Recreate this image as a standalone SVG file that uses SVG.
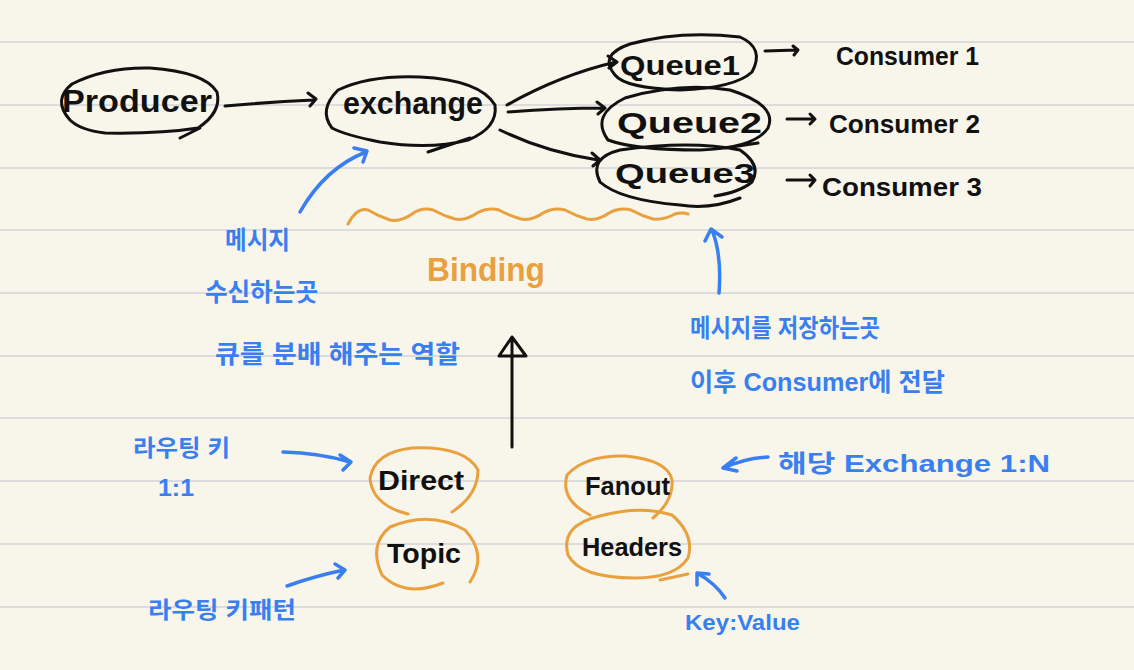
<svg xmlns="http://www.w3.org/2000/svg" width="1134" height="670" viewBox="0 0 1134 670">
<defs>
<style>
.bg{fill:#f8f6eb}
.rule{stroke:#dcdcdc;stroke-width:2}
.bk{fill:none;stroke:#111;stroke-width:3;stroke-linecap:round;stroke-linejoin:round}
.or{fill:none;stroke:#e9a03e;stroke-width:3;stroke-linecap:round}
.bl{fill:none;stroke:#3a7ff0;stroke-width:3.5;stroke-linecap:round;stroke-linejoin:round}
.tk{font-family:"Liberation Sans","Noto Sans",sans-serif;fill:#111;font-weight:bold}
.to{font-family:"Liberation Sans","Noto Sans",sans-serif;fill:#e9a03e;font-weight:bold}
.tb{font-family:"Liberation Sans","Noto Sans CJK KR",sans-serif;fill:#3a7ff0;font-weight:bold}
</style>
</defs>
<rect class="bg" x="0" y="0" width="1134" height="670"/>
<g id="rules">
<line class="rule" x1="0" y1="42" x2="1134" y2="42"/>
<line class="rule" x1="0" y1="105" x2="1134" y2="105"/>
<line class="rule" x1="0" y1="168" x2="1134" y2="168"/>
<line class="rule" x1="0" y1="230" x2="1134" y2="230"/>
<line class="rule" x1="0" y1="293" x2="1134" y2="293"/>
<line class="rule" x1="0" y1="356" x2="1134" y2="356"/>
<line class="rule" x1="0" y1="418" x2="1134" y2="418"/>
<line class="rule" x1="0" y1="481" x2="1134" y2="481"/>
<line class="rule" x1="0" y1="544" x2="1134" y2="544"/>
<line class="rule" x1="0" y1="607" x2="1134" y2="607"/>
</g>
<g id="connectors">
<path class="bk" d="M225 106 Q270 102 314 100 M308 93 L316 99 L310 106"/>
<path class="bk" d="M507 105 Q560 75 616 62 M608 56 L617 62 L609 68"/>
<path class="bk" d="M508 112 Q560 108 604 108 M597 102 L605 108 L598 114"/>
<path class="bk" d="M500 130 Q545 152 598 160 M592 153 L600 160 L593 166"/>
<path class="bk" d="M765 51 L797 50 M793 46 L798 50 L794 55"/>
<path class="bk" d="M787 119 L815 119 M810 114 L815 119 L810 124"/>
<path class="bk" d="M787 180 L815 180 M810 175 L815 180 L810 186"/>
<path class="bk" d="M512 447 L512 337 M499 356 L512 337 L526 356 Z"/>
<path class="bl" d="M300 212 Q325 168 366 152 M354 148 L367 151 L363 162"/>
<path class="bl" d="M719 293 Q722 255 712 230 M705 241 L711 229 L722 237"/>
<path class="bl" d="M283 452 Q320 453 350 462 M340 455 L351 462 L343 470"/>
<path class="bl" d="M287 586 Q315 576 344 570 M335 564 L345 570 L338 578"/>
<path class="bl" d="M768 457 Q745 458 724 468 M736 458 L723 468 L737 471"/>
<path class="bl" d="M725 598 Q715 583 697 573 M697 585 L697 573 L709 574"/>
<path class="or" d="M348 224 Q357 207 368 210 Q378 216 390 220 Q401 222 412 214 Q422 207 433 210 Q444 216 455 219 Q466 221 477 213 Q488 207 499 210 Q510 216 521 219 Q532 221 543 213 Q554 207 565 210 Q576 216 587 219 Q598 221 609 213 Q620 207 631 210 Q642 216 653 219 Q664 220 675 214 Q682 212 688 214"/>
</g>
<g id="producer">
<path class="bk" d="M70 120 Q52 100 72 84 Q105 67 150 68 Q205 72 217 92 Q222 112 198 128 Q160 134 105 133 Q80 130 70 120 M180 138 L200 128"/>
<text class="tk" x="62" y="112" font-size="32" textLength="150" lengthAdjust="spacingAndGlyphs">Producer</text>
</g>
<g id="exchange">
<path class="bk" d="M332 128 Q318 110 338 90 Q370 75 420 77 Q480 80 495 105 Q498 128 468 140 Q430 150 380 142 Q345 135 332 128 M428 152 L470 138"/>
<text class="tk" x="343" y="114" font-size="32" textLength="140" lengthAdjust="spacingAndGlyphs">exchange</text>
</g>
<g id="queue1">
<path class="bk" d="M615 75 Q598 55 630 44 Q680 30 740 37 Q765 48 752 72 Q735 88 680 90 Q625 88 615 75"/>
<text class="tk" x="620" y="75" font-size="27" textLength="120" lengthAdjust="spacingAndGlyphs">Queue1</text>
</g>
<g id="queue2">
<path class="bk" d="M608 140 Q590 115 625 98 Q680 82 730 90 Q778 105 768 128 Q755 148 700 150 Q635 150 608 140 M725 148 L758 143"/>
<text class="tk" x="617" y="133" font-size="30" textLength="145" lengthAdjust="spacingAndGlyphs">Queue2</text>
</g>
<g id="queue3">
<path class="bk" d="M600 182 Q588 158 620 150 Q690 140 740 150 Q762 165 752 182 Q740 192 715 196 M740 198 Q710 210 680 205 Q620 200 600 182"/>
<text class="tk" x="615" y="183" font-size="28" textLength="140" lengthAdjust="spacingAndGlyphs">Queue3</text>
</g>
<g id="consumer1"><text class="tk" x="836" y="65" font-size="25" textLength="143" lengthAdjust="spacingAndGlyphs">Consumer 1</text></g>
<g id="consumer2"><text class="tk" x="829" y="133" font-size="25" textLength="151" lengthAdjust="spacingAndGlyphs">Consumer 2</text></g>
<g id="consumer3"><text class="tk" x="822" y="196" font-size="25" textLength="160" lengthAdjust="spacingAndGlyphs">Consumer 3</text></g>
<g id="binding"><text class="to" x="427" y="281" font-size="33" textLength="118" lengthAdjust="spacingAndGlyphs">Binding</text></g>
<g id="note-exchange">
<text class="tb" x="225" y="249" font-size="25" textLength="65" lengthAdjust="spacingAndGlyphs">메시지</text>
<text class="tb" x="205" y="301" font-size="25" textLength="113" lengthAdjust="spacingAndGlyphs">수신하는곳</text>
<text class="tb" x="215" y="363" font-size="25" textLength="245" lengthAdjust="spacingAndGlyphs">큐를 분배 해주는 역할</text>
</g>
<g id="note-queue">
<text class="tb" x="690" y="337" font-size="25" textLength="190" lengthAdjust="spacingAndGlyphs">메시지를 저장하는곳</text>
<text class="tb" x="690" y="391" font-size="25" textLength="255" lengthAdjust="spacingAndGlyphs">이후 Consumer에 전달</text>
</g>
<g id="direct">
<path class="or" d="M408 514 Q372 505 370 478 Q375 452 412 448 Q465 446 478 470 Q478 495 452 512"/>
<text class="tk" x="378" y="490" font-size="27" textLength="86" lengthAdjust="spacingAndGlyphs">Direct</text>
</g>
<g id="topic">
<path class="or" d="M443 583 Q405 598 382 575 Q368 545 390 527 Q430 510 465 530 Q488 555 470 582"/>
<text class="tk" x="387" y="563" font-size="28" textLength="74" lengthAdjust="spacingAndGlyphs">Topic</text>
</g>
<g id="fanout">
<path class="or" d="M590 515 Q560 500 567 475 Q585 455 625 456 Q668 460 672 480 Q674 500 653 518"/>
<text class="tk" x="585" y="495" font-size="25" textLength="85" lengthAdjust="spacingAndGlyphs">Fanout</text>
</g>
<g id="headers">
<path class="or" d="M600 516 Q640 505 672 515 Q695 535 688 558 Q675 578 635 578 Q580 578 568 555 Q560 525 600 516 M660 580 L688 574"/>
<text class="tk" x="582" y="556" font-size="26" textLength="100" lengthAdjust="spacingAndGlyphs">Headers</text>
</g>
<g id="note-direct">
<text class="tb" x="133" y="456" font-size="23" textLength="97" lengthAdjust="spacingAndGlyphs">라우팅 키</text>
<text class="tb" x="158" y="496" font-size="23" textLength="36" lengthAdjust="spacingAndGlyphs">1:1</text>
</g>
<g id="note-topic"><text class="tb" x="148" y="618" font-size="23" textLength="148" lengthAdjust="spacingAndGlyphs">라우팅 키패턴</text></g>
<g id="note-fanout"><text class="tb" x="778" y="472" font-size="24" textLength="272" lengthAdjust="spacingAndGlyphs">해당  Exchange   1:N</text></g>
<g id="note-headers"><text class="tb" x="685" y="630" font-size="22" textLength="115" lengthAdjust="spacingAndGlyphs">Key:Value</text></g>
</svg>
